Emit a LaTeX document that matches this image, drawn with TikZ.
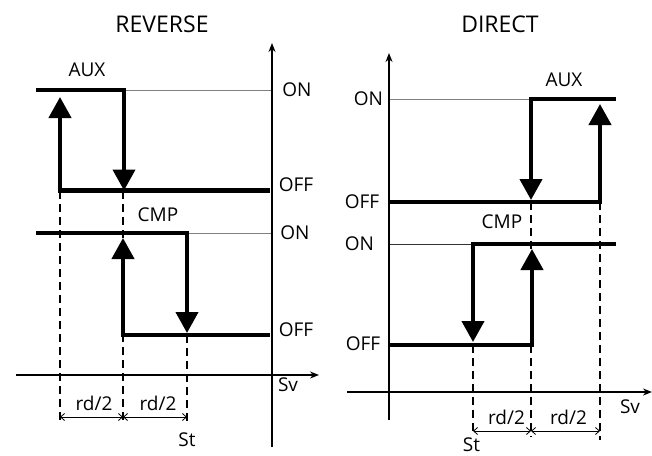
\documentclass[tikz,border=0pt]{standalone}
\usepackage{fontspec}
\setmainfont{Open Sans}
\usetikzlibrary{arrows.meta}

\begin{document}
\begin{tikzpicture}[
        x=1pt, y=-1pt,
        lab/.style={inner sep=0pt, anchor=base, font=\fontsize{19}{21}\selectfont},
        ttl/.style={inner sep=0pt, anchor=base, font=\fontsize{23}{25}\selectfont},
        sig/.style={line width=4.2pt, line join=miter,
                    -{Triangle[length=21pt 0 0, width=22pt 0 0]}},
        refline/.style={gray, line width=0.9pt},
        axisline/.style={line width=1.4pt, -{Stealth[length=9pt 0 0, width=7pt 0 0]}},
        guide/.style={dash pattern=on 8pt off 5pt, line width=1.2pt},
        dimline/.style={line width=0.8pt,
                    {Straight Barb[length=4pt 0 0, width=7pt 0 0]}-{Straight Barb[length=4pt 0 0, width=7pt 0 0]}}
      ]
        \useasboundingbox (0,0) rectangle (652,455);

        % ---------- REVERSE ----------
        % guides
        \draw[guide] (60,191) -- (60,423);
        \draw[guide] (123,191) -- (123,423);
        \draw[guide] (187,335) -- (187,423);
        % reference lines
        \draw[refline] (124,90) -- (272,90);
        \draw[refline] (187,233) -- (272,233);
        % axes
        \draw[axisline] (272,447) -- (272,43);
        \draw[axisline] (16,375) -- (319,375);
        % AUX
        \draw[sig] (36,90) -- (124,90) -- (124,190.5);
        \draw[sig] (270,190.5) -- (60,190.5) -- (60,97);
        % CMP
        \draw[sig] (36,233) -- (187,233) -- (187,333);
        \draw[sig] (270,335) -- (123,335) -- (123,238);
        % differentials
        \draw[dimline] (60,417) -- (123,417);
        \draw[dimline] (123,417) -- (187,417);

        % ---------- DIRECT ----------
        % guides
        \draw[guide] (531,202) -- (531,437);
        \draw[guide] (600,202) -- (600,440);
        \draw[guide] (473,345) -- (473,434);
        % reference lines
        \draw[refline] (389,99) -- (531,99);
        \draw[refline, black!80, line width=0.7pt] (389,244) -- (473,244);
        % axes
        \draw[line width=2pt] (389,420) -- (389,60);
        \draw[axisline] (389,420) -- (389,53);
        \draw[axisline] (347,392) -- (652,392);
        % AUX
        \draw[sig] (616,99) -- (531,99) -- (531,200);
        \draw[sig] (389,202) -- (600,202) -- (600,104);
        % CMP
        \draw[sig] (616,244) -- (473,244) -- (473,342);
        \draw[sig] (389,345) -- (532,345) -- (532,249);
        % differentials
        \draw[dimline] (473,431) -- (531,431);
        \draw[dimline] (531,431) -- (600,431);

        % ---------- Labels ----------
        \node[ttl] (revT) at (162,32.7) {REVERSE};
        \node[ttl] (dirT) at (500,32.3) {DIRECT};
        \node[lab] (auxL) at (87,76.7)  {AUX};
        \node[lab] (onL1) at (297,96)   {ON};
        \node[lab] (offL1) at (296,191.7) {OFF};
        \node[lab] (cmpL) at (158,221.7) {CMP};
        \node[lab] (onL2) at (295,239.3) {ON};
        \node[lab] (offL2) at (296,336.7) {OFF};
        \node[lab] (svL) at (288,391.7) {Sv};
        \node[lab] (rdL1) at (94,410)   {rd/2};
        \node[lab] (rdL2) at (158,410)  {rd/2};
        \node[lab] (stL) at (187,446.7) {St};
        \node[lab] (auxR) at (564,86.7) {AUX};
        \node[lab] (onR1) at (368.5,105) {ON};
        \node[lab] (offR1) at (362,208.3) {OFF};
        \node[lab] (cmpR) at (502,228)  {CMP};
        \node[lab] (onR2) at (359.5,250) {ON};
        \node[lab] (offR2) at (363,350) {OFF};
        \node[lab] (svR) at (630,413.3) {Sv};
        \node[lab] (rdR1) at (506.5,424) {rd/2};
        \node[lab] (rdR2) at (568.5,424) {rd/2};
        \node[lab] (stR) at (471.5,451) {St};
      \end{tikzpicture}
\end{document}
